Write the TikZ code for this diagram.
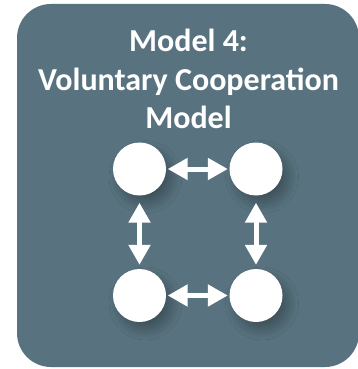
\documentclass[tikz,border=0pt]{standalone}
\usepackage{fontspec}
\setmainfont{Carlito}
\usetikzlibrary{arrows.meta,shadows.blur}
\definecolor{panel}{RGB}{88,115,127}
\tikzset{
  title/.style={text=white,font=\bfseries\fontsize{32}{38}\selectfont,anchor=base,inner sep=0pt},
  dot/.style={circle,fill=white,minimum size=53pt,inner sep=0pt,
    blur shadow={shadow xshift=6pt,shadow yshift=-8pt,shadow opacity=30,shadow blur radius=10pt,shadow blur steps=15}},
  link/.style={white,line width=5pt,{Triangle[length=20pt,width=21pt]}-{Triangle[length=20pt,width=21pt]}}
}
\begin{document}
\begin{tikzpicture}[x=1pt,y=-1pt]
\useasboundingbox (0,0) rectangle (357,369);
\fill[panel,rounded corners=34pt] (17,4) rectangle (359,367);
\node[title] (t1) at (188.5,52) {Model 4:};
\node[title] (t2) at (188.5,90) {Voluntary Cooperation};
\node[title] (t3) at (188.5,128) {Model};
\node[dot] (tl) at (139.5,169) {};
\node[dot] (tr) at (256,169) {};
\node[dot] (bl) at (139.5,295.5) {};
\node[dot] (br) at (256,295.5) {};
\draw[link,shorten <=1.5pt,shorten >=1.5pt] (tl) -- (tr);
\draw[link,shorten <=1.5pt,shorten >=1.5pt] (bl) -- (br);
\draw[link,shorten <=7pt,shorten >=4pt] (tl) -- (bl);
\draw[link,shorten <=7pt,shorten >=4pt] (tr) -- (br);
\end{tikzpicture}
\end{document}
